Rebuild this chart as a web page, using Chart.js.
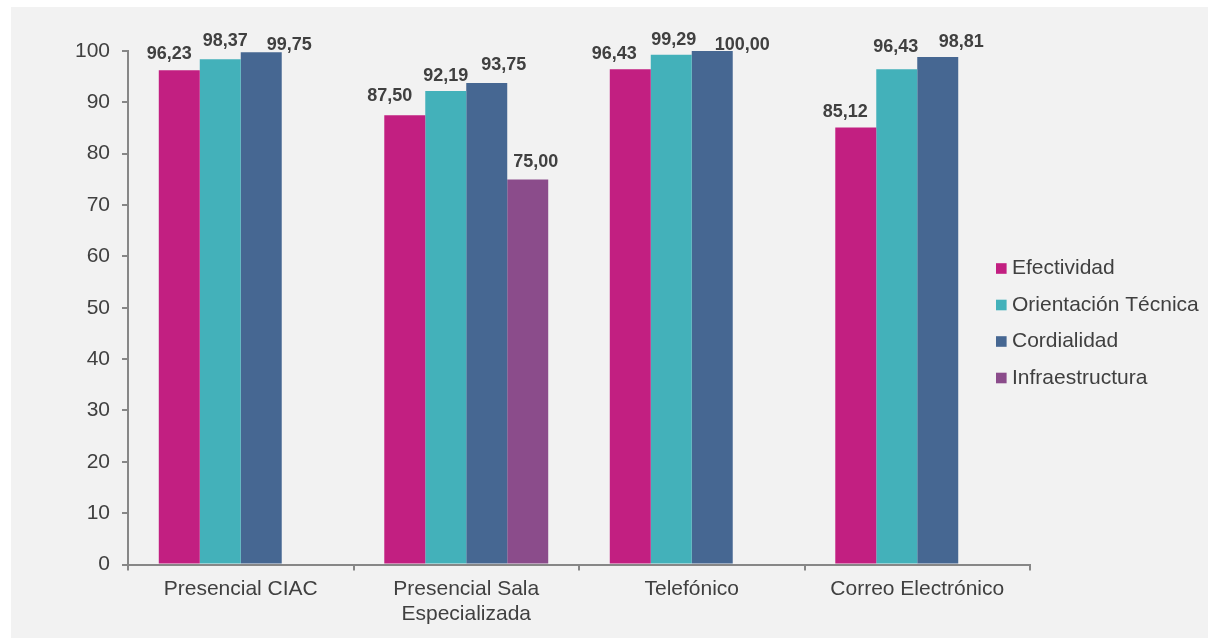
<!DOCTYPE html>
<html><head><meta charset="utf-8">
<script src="https://cdn.jsdelivr.net/npm/chart.js@4.4.1/dist/chart.umd.min.js"></script>
<style>html,body{margin:0;padding:0;background:#fff;} canvas{display:block}</style>
</head><body><canvas id="c" width="1208" height="638"></canvas>
<script>
// ---- data ----
const categories = [['Presencial CIAC'], ['Presencial Sala', 'Especializada'], ['Telefónico'], ['Correo Electrónico']];
const seriesNames = ['Efectividad', 'Orientación Técnica', 'Cordialidad', 'Infraestructura'];
const efectividad = [96.23, 87.50, 96.43, 85.12];
const orientacionTecnica = [98.37, 92.19, 99.29, 96.43];
const cordialidad = [99.75, 93.75, 100.00, 98.81];
const infraestructura = [null, 75.00, null, null];
const yTickValues = [0, 10, 20, 30, 40, 50, 60, 70, 80, 90, 100];

// ---- style ----
const colors = ['#C21F81', '#43B1BA', '#466792', '#8B4C8B'];
const FONT = "'Liberation Sans', Arial, sans-serif";
const TEXT = '#404040';
const AXIS = '#878787';
// label offsets (relative to bar top centre), per dataset per category
const labelDx = [[-10, -15, -16, -10.5], [5, 0, 2.5, -1], [28, 17, 30, 23.5], [0, 8, 0, 0]];
const labelDy = [[-16, -19, -15, -15.5], [-18, -15, -15, -22.5], [-7, -18, -5.5, -15.5], [0, -17.5, 0, 0]];

const bgPlugin = {
  id: 'bg',
  beforeDraw(chart) {
    const ctx = chart.ctx;
    ctx.save();
    ctx.fillStyle = '#ffffff';
    ctx.fillRect(0, 0, chart.width, chart.height);
    ctx.fillStyle = '#f2f2f2';
    ctx.fillRect(11, 7, chart.width - 11, chart.height - 7);
    ctx.restore();
  }
};

const labelPlugin = {
  id: 'valueLabels',
  afterDatasetsDraw(chart) {
    const ctx = chart.ctx;
    ctx.save();
    ctx.font = 'bold 18px ' + FONT;
    ctx.fillStyle = TEXT;
    ctx.textAlign = 'center';
    ctx.textBaseline = 'middle';
    chart.data.datasets.forEach((ds, di) => {
      const meta = chart.getDatasetMeta(di);
      meta.data.forEach((bar, i) => {
        const v = ds.data[i];
        if (v === null || v === undefined) return;
        const txt = v.toFixed(2).replace('.', ',');
        ctx.fillText(txt, bar.x + labelDx[di][i], bar.y + labelDy[di][i]);
      });
    });
    ctx.restore();
  }
};

const legendPlugin = {
  id: 'sideLegend',
  afterDraw(chart) {
    const ctx = chart.ctx;
    ctx.save();
    ctx.font = '21px ' + FONT;
    ctx.textAlign = 'left';
    ctx.textBaseline = 'middle';
    chart.data.datasets.forEach((ds, di) => {
      const cy = 268.5 + di * 36.5;
      ctx.fillStyle = ds.backgroundColor;
      ctx.fillRect(996, cy - 5.3, 10.6, 10.6);
      ctx.fillStyle = TEXT;
      ctx.fillText(ds.label, 1012, cy);
    });
    ctx.restore();
  }
};

const datasets = [efectividad, orientacionTecnica, cordialidad, infraestructura].map((d, i) => ({
  label: seriesNames[i],
  data: d,
  backgroundColor: colors[i],
  borderWidth: 0
}));

new Chart(document.getElementById('c'), {
  type: 'bar',
  data: { labels: categories, datasets },
  options: {
    responsive: false,
    animation: false,
    layout: { padding: { left: 0, top: 51, right: 178, bottom: 0 } },
    datasets: { bar: { categoryPercentage: 0.727, barPercentage: 1.0 } },
    plugins: { legend: { display: false }, tooltip: { enabled: false } },
    scales: {
      x: {
        offset: true,
        grid: { offset: true, drawOnChartArea: false, drawTicks: true, tickLength: 6, color: AXIS, lineWidth: 2 },
        border: { display: true, color: AXIS, width: 2 },
        ticks: { color: TEXT, font: { family: FONT, size: 21 }, padding: 6, maxRotation: 0, autoSkip: false },
        afterFit(scale) { scale.height = 73.5; }
      },
      y: {
        min: 0, max: 100,
        afterBuildTicks(scale) { scale.ticks = yTickValues.map(v => ({ value: v })); },
        grid: { drawOnChartArea: false, drawTicks: true, tickLength: 6, color: AXIS, lineWidth: 2 },
        border: { display: true, color: AXIS, width: 2 },
        ticks: { color: TEXT, font: { family: FONT, size: 21 }, padding: 12 },
        afterFit(scale) { scale.width = 128; }
      }
    }
  },
  plugins: [bgPlugin, labelPlugin, legendPlugin]
});
</script>
</body></html>
